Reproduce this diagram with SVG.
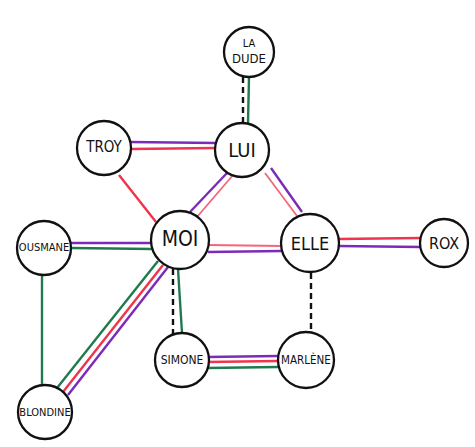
<svg xmlns="http://www.w3.org/2000/svg" width="475" height="447" viewBox="0 0 475 447">
<style>
.n{fill:#fff;stroke:#111;stroke-width:2.3}
.t{font-family:"DejaVu Sans Condensed","Liberation Sans",sans-serif;fill:#111;text-anchor:middle;dominant-baseline:central}
.e line{stroke-width:2.4;fill:none}
.p{stroke:#7a2cb8}
.r{stroke:#f0334e}
.k{stroke:#f2677a;stroke-width:1.8!important}
.g{stroke:#1f7a4d}
.d{stroke:#111;stroke-dasharray:6 4}
</style>
<rect width="475" height="447" fill="#fff"/>
<g id="connectors" class="e">
<line class="d" x1="243" y1="77" x2="243" y2="123"/>
<line class="g" x1="249" y1="77" x2="248" y2="123"/>
<line class="p" x1="130" y1="142" x2="216" y2="143"/>
<line class="r" x1="131" y1="149" x2="216" y2="148"/>
<line class="r" x1="119" y1="175" x2="156" y2="222"/>
<line class="p" x1="227" y1="173" x2="190" y2="212"/>
<line class="k" x1="233" y1="175" x2="197" y2="217"/>
<line class="k" x1="265" y1="173" x2="297" y2="216"/>
<line class="p" x1="271" y1="168" x2="302" y2="212"/>
<line class="k" x1="208" y1="245" x2="282" y2="246"/>
<line class="p" x1="208" y1="252" x2="282" y2="251"/>
<line class="r" x1="338" y1="239" x2="421" y2="238"/>
<line class="p" x1="338" y1="246" x2="421" y2="247"/>
<line class="p" x1="71" y1="243" x2="152" y2="243"/>
<line class="g" x1="71" y1="248" x2="152" y2="249"/>
<line class="g" x1="42" y1="274" x2="42" y2="386"/>
<line class="g" x1="158" y1="261" x2="57" y2="388"/>
<line class="r" x1="163" y1="265" x2="63" y2="392"/>
<line class="p" x1="168" y1="267" x2="68" y2="395"/>
<line class="d" x1="173" y1="269" x2="173" y2="334"/>
<line class="g" x1="178" y1="269" x2="182" y2="333"/>
<line class="d" x1="311" y1="273" x2="311" y2="334"/>
<line class="p" x1="207" y1="357" x2="278" y2="356"/>
<line class="r" x1="207" y1="362" x2="278" y2="361"/>
<line class="g" x1="207" y1="368" x2="278" y2="367"/>
</g>
<g id="ladude"><circle class="n" cx="249" cy="52" r="25"/><text class="t" x="249" y="43" font-size="11">LA</text><text class="t" x="249" y="58" font-size="13">DUDE</text></g>
<g id="lui"><circle class="n" cx="242" cy="150" r="27"/><text class="t" x="242" y="150" font-size="20">LUI</text></g>
<g id="troy"><circle class="n" cx="104" cy="148" r="27"/><text class="t" x="104" y="147" font-size="15">TROY</text></g>
<g id="moi"><circle class="n" cx="180" cy="240" r="29"/><text class="t" x="180" y="239" font-size="21">MOI</text></g>
<g id="elle"><circle class="n" cx="310" cy="243" r="29"/><text class="t" x="310" y="243" font-size="18">ELLE</text></g>
<g id="rox"><circle class="n" cx="444" cy="243" r="24"/><text class="t" x="444" y="243" font-size="16">ROX</text></g>
<g id="ousmane"><circle class="n" cx="44" cy="248" r="27"/><text class="t" x="44" y="247" font-size="11">OUSMANE</text></g>
<g id="simone"><circle class="n" cx="182" cy="360" r="27"/><text class="t" x="182" y="360" font-size="12">SIMONE</text></g>
<g id="marlene"><circle class="n" cx="306" cy="360" r="28"/><text class="t" x="306" y="360" font-size="11.5">MARLÈNE</text></g>
<g id="blondine"><circle class="n" cx="45" cy="412" r="27"/><text class="t" x="45" y="412" font-size="11">BLONDINE</text></g>
</svg>
